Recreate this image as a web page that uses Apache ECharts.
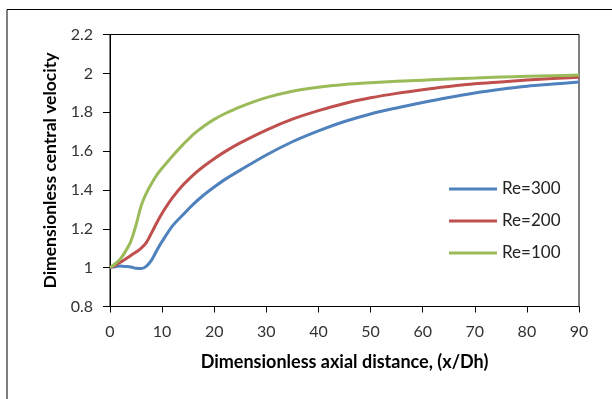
<!DOCTYPE html>
<html>
<head>
<meta charset="utf-8">
<script src="https://cdn.jsdelivr.net/npm/echarts@6/dist/echarts.min.js"></script>
<style>
html,body{margin:0;padding:0;background:#fff;}
#chart{width:612px;height:399px;}
</style>
</head>
<body>
<div id="chart"></div>
<script>
const xValues = [0,1,2,3,4,5,6,7,8,9,10,12,14,16,18,20,22,25,30,35,40,45,50,55,60,65,70,75,80,85,90];
const re300 = [1.0,1.005,1.008,1.006,1.003,0.997,0.995,1.008,1.04,1.09,1.135,1.215,1.272,1.327,1.374,1.415,1.453,1.502,1.58,1.648,1.704,1.752,1.791,1.822,1.85,1.876,1.899,1.918,1.934,1.945,1.955];
const re200 = [1.0,1.012,1.028,1.045,1.063,1.08,1.10,1.13,1.18,1.232,1.28,1.36,1.425,1.478,1.522,1.561,1.596,1.642,1.708,1.764,1.808,1.845,1.874,1.897,1.916,1.932,1.946,1.956,1.966,1.974,1.98];
const re100 = [1.0,1.02,1.045,1.085,1.135,1.22,1.32,1.385,1.435,1.478,1.512,1.575,1.633,1.686,1.728,1.763,1.792,1.828,1.875,1.908,1.929,1.943,1.952,1.959,1.965,1.971,1.976,1.981,1.985,1.988,1.991];
const seriesNames = ['Re=300','Re=200','Re=100'];
const xTitle = 'Dimensionless axial distance, (x/Dh)';
const yTitle = 'Dimensionless central velocity';

const pair = arr => xValues.map((x,i)=>[x,arr[i]]);
const font = 'Lato, "Open Sans", sans-serif';
const chart = echarts.init(document.getElementById('chart'));
chart.setOption({
  backgroundColor:'#fff',
  animation:false,
  graphic:[{type:'rect',shape:{x:7,y:9.5,width:800,height:600},style:{fill:'none',stroke:'#000',lineWidth:1},silent:true}],
  grid:{left:110,top:34.5,right:33,bottom:92.5,show:true,borderColor:'#000',borderWidth:1,backgroundColor:'transparent'},
  legend:{
    orient:'vertical',left:444,top:174,icon:'rect',itemWidth:48,itemHeight:3,itemGap:12,
    textStyle:{fontFamily:font,fontSize:17,color:'#222',lineHeight:20},
    data:seriesNames
  },
  xAxis:{
    type:'value',min:0,max:90,interval:10,
    name:xTitle,nameLocation:'middle',nameGap:47,
    nameTextStyle:{fontFamily:font,fontSize:18,fontWeight:'bold',color:'#000'},
    axisLine:{lineStyle:{color:'#000',width:1}},
    axisTick:{show:true,length:6,lineStyle:{color:'#000'}},
    axisLabel:{fontFamily:font,fontSize:16,color:'#333',margin:17},
    splitLine:{show:false}
  },
  yAxis:{
    type:'value',min:0.8,max:2.2,interval:0.2,
    name:yTitle,nameLocation:'middle',nameGap:51,
    nameTextStyle:{fontFamily:font,fontSize:17.5,fontWeight:'bold',color:'#000'},
    axisLine:{show:true,lineStyle:{color:'#000',width:1}},
    axisTick:{show:true,length:7,lineStyle:{color:'#000'}},
    axisLabel:{fontFamily:font,fontSize:16,color:'#333',margin:17,formatter:v=>String(Math.round(v*10)/10)},
    splitLine:{show:false}
  },
  series:[
    {name:seriesNames[0],type:'line',data:pair(re300),smooth:0.3,symbol:'none',lineStyle:{color:'#4F81BD',width:3},itemStyle:{color:'#4F81BD'}},
    {name:seriesNames[1],type:'line',data:pair(re200),smooth:0.3,symbol:'none',lineStyle:{color:'#C0504D',width:3},itemStyle:{color:'#C0504D'}},
    {name:seriesNames[2],type:'line',data:pair(re100),smooth:0.3,symbol:'none',lineStyle:{color:'#9BBB59',width:3},itemStyle:{color:'#9BBB59'}}
  ]
});
</script>
</body>
</html>
